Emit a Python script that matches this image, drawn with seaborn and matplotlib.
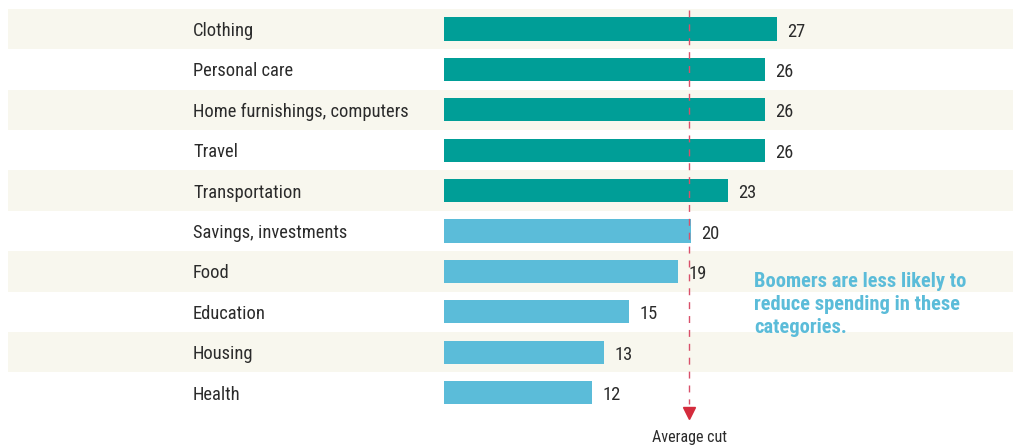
import matplotlib
matplotlib.use("Agg")
import matplotlib.pyplot as plt
import seaborn as sns
import pandas as pd

categories = ["Clothing", "Personal care", "Home furnishings, computers", "Travel",
              "Transportation", "Savings, investments", "Food", "Education",
              "Housing", "Health"]
values = [27, 26, 26, 26, 23, 20, 19, 15, 13, 12]
groups = ["more", "more", "more", "more", "more", "less", "less", "less", "less", "less"]
average_cut = 19.9
note = "Boomers are less likely to\nreduce spending in these\ncategories."

sns.set_theme(style="white")
plt.rcParams["font.family"] = ["Roboto Condensed", "DejaVu Sans"]

W, H = 1013, 448
fig = plt.figure(figsize=(W / 100, H / 100), dpi=100)
ax = fig.add_axes([0, 0, 1, 1])

px_per_unit = 333 / 27.0
x0_px = 444
row0_px = 29
row_px = 40.4

def xdata(px):
    return (px - x0_px) / px_per_unit

def ydata(px):
    return (px - row0_px) / row_px

df = pd.DataFrame({"cat": categories, "val": values, "grp": groups})
palette = {"more": "#009e97", "less": "#5bbcd9"}

# background stripes
for i in range(0, len(categories), 2):
    ax.axhspan(i - 0.5, i + 0.5, xmin=8 / W, xmax=1.0, color="#f8f7ee", zorder=0, lw=0)

sns.barplot(data=df, x="val", y="cat", hue="grp", palette=palette, dodge=False,
            width=0.57, orient="h", legend=False, ax=ax, zorder=2, saturation=1,
            linewidth=0)

ax.set_xlim(xdata(0), xdata(W))
ax.set_ylim(ydata(H), ydata(0))
ax.axis("off")

dy = 2 / row_px
for i, (c, v) in enumerate(zip(categories, values)):
    ax.text(xdata(193), i + dy, c, ha="left", va="center", fontsize=13.3, color="#2b2b2b", zorder=3)
    ax.text(v + 10 / px_per_unit, i + dy * 1.3, str(v), ha="left", va="center", fontsize=13.3,
            color="#2b2b2b", zorder=3)

# average cut line
ax.plot([average_cut, average_cut], [ydata(10), ydata(404)], color="#d9506a", lw=1,
        dashes=(5, 5), zorder=4)
ax.plot([average_cut], [ydata(413)], marker="v", markersize=8,
        color="#d42b3c", zorder=4, lw=0)
ax.text(average_cut, ydata(437), "Average cut", ha="center", va="center",
        fontsize=11.5, color="#2b2b2b")

ax.text(xdata(754), ydata(272), note, ha="left", va="top", fontsize=14.8,
        fontweight="bold", color="#5bbcd9", linespacing=1.25)
fig.savefig("out.png", dpi=100)
